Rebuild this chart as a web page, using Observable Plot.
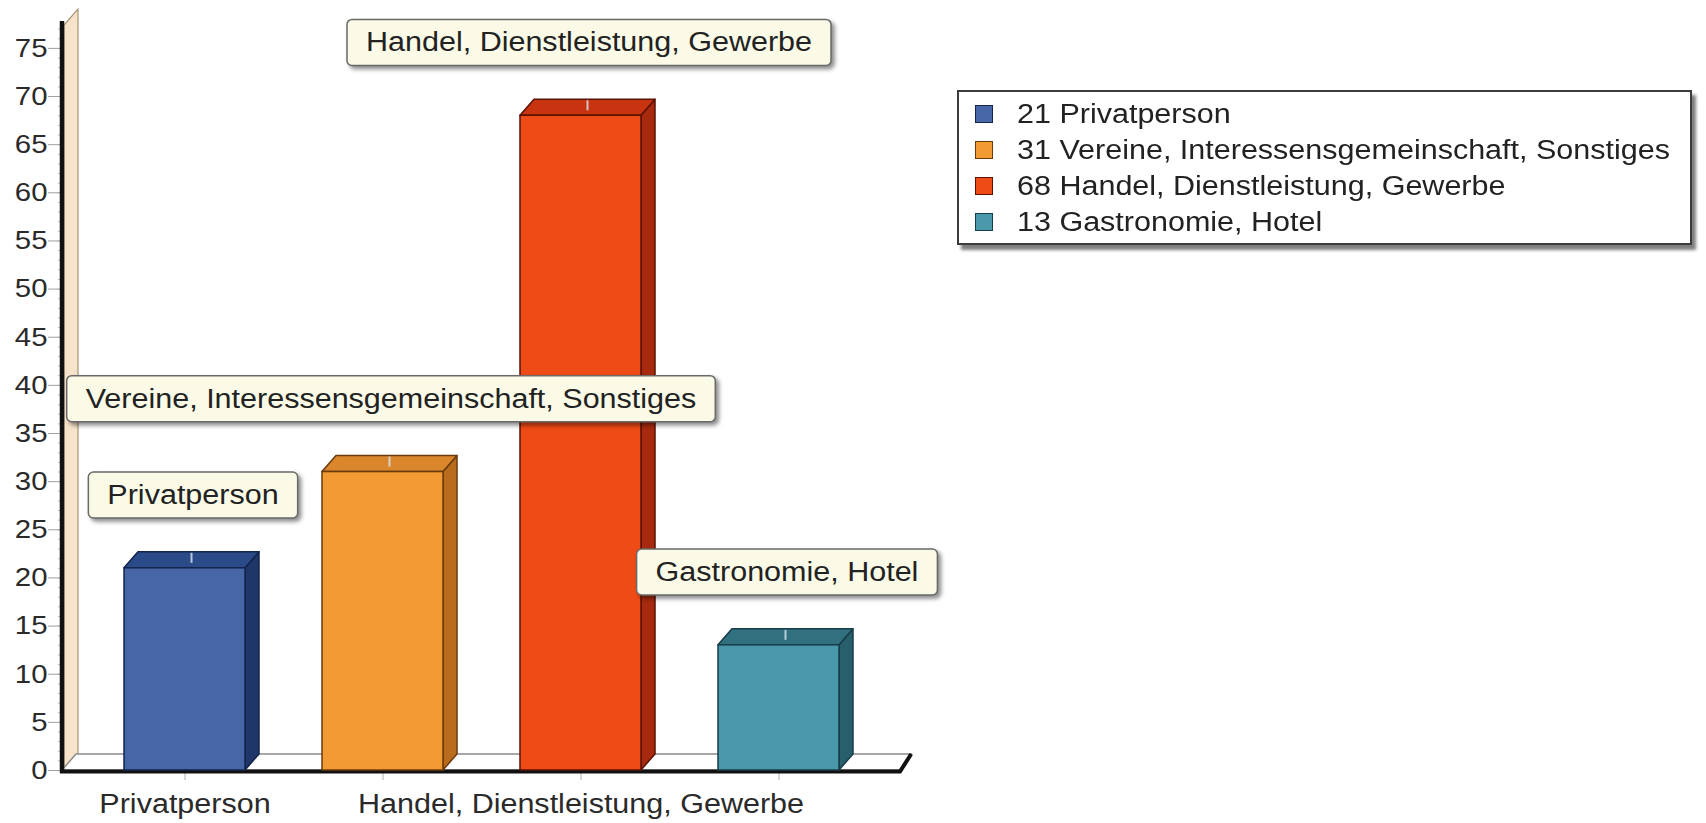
<!DOCTYPE html>
<html><head><meta charset="utf-8">
<script src="https://cdn.jsdelivr.net/npm/d3@7"></script>
<script src="https://cdn.jsdelivr.net/npm/@observablehq/plot@0.6"></script>
<style>
html,body{margin:0;padding:0;background:#fff;}
#wrap{position:relative;width:1706px;height:823px;overflow:hidden;font-family:"Liberation Sans",Arial,sans-serif;}
#legend{position:absolute;left:957px;top:90px;width:731px;height:151px;border:2px solid #3c3c3c;background:#fff;box-shadow:4px 5px 3px rgba(0,0,0,0.5);}
.row{position:absolute;left:0;height:36px;line-height:36px;font-size:27px;color:#222;white-space:nowrap;}
.sw{position:absolute;left:16px;top:9px;width:16px;height:16px;border:1.5px solid;}
.lt{position:absolute;left:58px;top:0;display:inline-block;transform:scaleX(1.13);transform-origin:0 50%;}
</style></head><body><div id="wrap"></div>
<script>
// ---- data ----
const categories = ["Privatperson", "Vereine, Interessensgemeinschaft, Sonstiges", "Handel, Dienstleistung, Gewerbe", "Gastronomie, Hotel"];
const counts = [21, 31, 68, 13];
const yTicks = [0, 5, 10, 15, 20, 25, 30, 35, 40, 45, 50, 55, 60, 65, 70, 75];
const yMinorTicks = d3.range(0, 78);
const xTickLabels = ["Privatperson", "Handel, Dienstleistung, Gewerbe"];
// ---- styles ----
const frontColors = ["#4666a6", "#f29b35", "#ef4b16", "#4b98ab"];
const topColors   = ["#2b4a88", "#d9862c", "#c8340f", "#30707f"];
const sideColors  = ["#1f3768", "#b96c1c", "#a82a0e", "#275f6d"];
const edgeColors  = ["#13244d", "#6b3a0c", "#5a1204", "#173d48"];
const DX = 14, DY = 16, STRETCH = 1.13;

const rows = categories.map((c, i) => ({category: c, count: counts[i]}));

const wrap = document.getElementById("wrap");

const frame3d = (index, scales) => {
  const {x, y} = scales;
  const [xl, xr] = x.range();
  const yb = y(0), yt = y(y.domain()[1]);
  const g = d3.create("svg:g");
  // wall
  g.append("path")
    .attr("d", `M${xl + 2},${yb}L${xl + 2},${yt + 6}L${xl + 2 + DX},${yt + 6 - DY}L${xl + 2 + DX},${yb - DY}Z`)
    .attr("fill", "#f6e3ca").attr("stroke", "#a89478").attr("stroke-width", 1.2);
  // floor
  g.append("path")
    .attr("d", `M${xl},${yb}L${xr},${yb}L${xr + DX * 0.8},${yb - DY}L${xl + DX},${yb - DY}Z`)
    .attr("fill", "#ffffff").attr("stroke", "#8a8a8a").attr("stroke-width", 1.5);
  g.append("path")
    .attr("d", `M${xl - 2},${yb + 1.5}L${xr},${yb + 1.5}L${xr + DX * 0.8},${yb - DY}`)
    .attr("fill", "none").attr("stroke", "#111").attr("stroke-width", 4);
  // axis line
  g.append("path")
    .attr("d", `M${xl},${yb + 3}L${xl},${yt + 2}`)
    .attr("stroke", "#111").attr("stroke-width", 4.5);
  return g.node();
};

const svg = Plot.plot({
  width: 1706,
  height: 823,
  marginLeft: 62,
  marginRight: 806,
  marginTop: 19,
  marginBottom: 53,
  x: {domain: categories, paddingInner: 0.39, paddingOuter: 0.31, label: null},
  y: {domain: [0, 78], label: null},
  color: {type: "identity"},
  style: {fontFamily: "'Liberation Sans', Arial, sans-serif", fontSize: "27px", color: "#2a2a2a", background: "#fff"},
  marks: [
    Plot.axisY({ticks: yMinorTicks, tickSize: 4, tickFormat: () => "", stroke: "#bdbdbd", label: null}),
    Plot.axisY({ticks: yTicks, tickSize: 14, tickPadding: 1, stroke: "#a0a0a0", fill: "#2a2a2a", fontSize: 26, label: null}),
    Plot.axisX({tickSize: 10, tickPadding: 13, stroke: "#b0b0b0", fill: "#2a2a2a", fontSize: 27, label: null,
      tickFormat: d => xTickLabels.includes(d) ? d : ""}),
    frame3d,
    Plot.barY(rows, {
      x: "category", y: "count",
      fill: (d, i) => frontColors[i], stroke: (d, i) => edgeColors[i], strokeWidth: 1.5,
      render(index, scales, values, dims, ctx, next) {
        const g = next(index, scales, values, dims, ctx);
        const {x, y} = scales;
        const bw = x.bandwidth();
        const faces = d3.create("svg:g");
        const marks = d3.create("svg:g");
        for (const i of index) {
          const d = rows[i];
          const x0 = x(d.category), x1 = x0 + bw, yb = y(0), yt = y(d.count);
          faces.append("path")
            .attr("d", `M${x1},${yb}L${x1 + DX},${yb - DY}L${x1 + DX},${yt - DY}L${x1},${yt}Z`)
            .attr("fill", sideColors[i]).attr("stroke", edgeColors[i]).attr("stroke-width", 1.5).attr("stroke-linejoin", "round");
          faces.append("path")
            .attr("d", `M${x0},${yt}L${x0 + DX},${yt - DY}L${x1 + DX},${yt - DY}L${x1},${yt}Z`)
            .attr("fill", topColors[i]).attr("stroke", edgeColors[i]).attr("stroke-width", 1.5).attr("stroke-linejoin", "round");
          const cx = x0 + bw / 2 + DX / 2;
          marks.append("line")
            .attr("x1", cx).attr("x2", cx).attr("y1", yt - DY + 1).attr("y2", yt - 5)
            .attr("stroke", "#d8e6f2").attr("stroke-width", 2).attr("opacity", 0.8);
        }
        g.insertBefore(faces.node(), g.firstChild);
        g.appendChild(marks.node());
        return g;
      }
    }),
    Plot.text(rows, {x: "category", y: "count", text: "category", dx: 8, dy: -73, fill: "#222", fontSize: 27, className: "barlabel"})
  ]
});
wrap.appendChild(svg);

// stretch texts horizontally like the reference picture
svg.querySelectorAll("text").forEach(t => {
  const L = t.getComputedTextLength();
  if (L > 0) {
    t.setAttribute("textLength", (L * STRETCH).toFixed(1));
    t.setAttribute("lengthAdjust", "spacingAndGlyphs");
  }
});

// callout boxes behind the bar labels
let labelTexts = svg.querySelectorAll("g.barlabel text");
if (!labelTexts.length) labelTexts = svg.querySelectorAll('g[aria-label="text"] text');
labelTexts.forEach(t => {
  const bb = t.getBBox();
  const r = document.createElementNS("http://www.w3.org/2000/svg", "rect");
  r.setAttribute("x", bb.x - 19);
  r.setAttribute("y", bb.y + bb.height / 2 - 23);
  r.setAttribute("width", bb.width + 38);
  r.setAttribute("height", 46);
  r.setAttribute("rx", 5);
  r.setAttribute("fill", "#fafae7");
  r.setAttribute("stroke", "#6a6a6a");
  r.setAttribute("stroke-width", 1.5);
  r.style.filter = "drop-shadow(3px 3px 2px rgba(0,0,0,0.45))";
  if (t.hasAttribute("transform")) r.setAttribute("transform", t.getAttribute("transform"));
  t.parentNode.insertBefore(r, t);
});

// legend
const legend = document.createElement("div");
legend.id = "legend";
categories.forEach((c, i) => {
  const row = document.createElement("div");
  row.className = "row";
  row.style.top = (4 + i * 36) + "px";
  const sw = document.createElement("span");
  sw.className = "sw";
  sw.style.background = frontColors[i];
  sw.style.borderColor = edgeColors[i];
  const lt = document.createElement("span");
  lt.className = "lt";
  lt.textContent = `${counts[i]} ${c}`;
  row.appendChild(sw);
  row.appendChild(lt);
  legend.appendChild(row);
});
wrap.appendChild(legend);
</script>
</body></html>
